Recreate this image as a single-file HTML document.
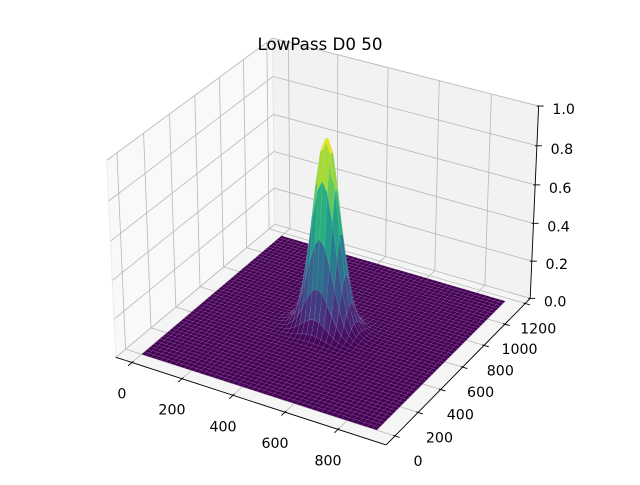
<!DOCTYPE html>
<html><head><meta charset="utf-8"><style>
html,body{margin:0;padding:0;background:#fff}
svg text{font-family:"DejaVu Sans","Liberation Sans",sans-serif;fill:#000}
</style></head><body>
<svg id="chart" width="640" height="480" viewBox="0 0 640 480" xmlns="http://www.w3.org/2000/svg">
<g id="panes"></g>
<g id="grid"></g>
<g id="surf"></g>
<g id="axes"></g>
<text x="320" y="50" font-size="16.7" text-anchor="middle">LowPass D0 50</text>
</svg>
<script>
// data
const xTicks = [0, 200, 400, 600, 800];
const yTicks = [0, 200, 400, 600, 800, 1000, 1200];
const zTicks = [0.0, 0.2, 0.4, 0.6, 0.8, 1.0];
const imageSize = [912, 1175];   // rows, cols of the filter
const cutoffD0 = [50];           // Gaussian low-pass cutoff
const sampleStride = [19, 24];   // plot_surface row/col stride
const xLim = [-65, 978];
const yLim = [-75, 1250];
const zLim = [0, 1];

const NS = "http://www.w3.org/2000/svg";
function proj(x, y, z) {
  const a = (x - xLim[0]) / (xLim[1] - xLim[0]);
  const b = (y - yLim[0]) / (yLim[1] - yLim[0]);
  const c = (z - zLim[0]) / (zLim[1] - zLim[0]);
  const qx = (a - .5) * 1.1429, qy = (b - .5) * 1.1429, qz = (c - .5) * 0.8297;
  const cx = .866 * qx + .5 * qy;
  const cy = -.25 * qx + .433 * qy + .866 * qz;
  const cz = .433 * qx - .75 * qy + .5 * qz;
  const d = 10 - cz;
  return [326.7 + 2708 * cx / d, 232 - 2708 * cy / d, d];
}
function mk(tag, attrs, parent) {
  const e = document.createElementNS(NS, tag);
  for (const k in attrs) e.setAttribute(k, attrs[k]);
  parent.appendChild(e);
  return e;
}
function pts(arr) { return arr.map(p => p[0].toFixed(2) + "," + p[1].toFixed(2)).join(" "); }

const panes = document.getElementById("panes");
const grid = document.getElementById("grid");
const surf = document.getElementById("surf");
const axes = document.getElementById("axes");
const [x0, x1] = xLim, [y0, y1] = yLim, [z0, z1] = zLim;

let p = mk("polygon", {points: pts([proj(x0,y0,z0),proj(x0,y1,z0),proj(x0,y1,z1),proj(x0,y0,z1)]), fill:"#f9f9f9", stroke:"#ececec","stroke-width":1}, panes);


p = mk("polygon", {points: pts([proj(x0,y1,z0),proj(x1,y1,z0),proj(x1,y1,z1),proj(x0,y1,z1)]), fill:"#f2f2f2", stroke:"#e6e6e6","stroke-width":1}, panes);


p = mk("polygon", {points: pts([proj(x0,y0,z0),proj(x1,y0,z0),proj(x1,y1,z0),proj(x0,y1,z0)]), fill:"#f5f5f5", stroke:"#e9e9e9","stroke-width":1}, panes);



function gline(a, b) {
  const l = mk("line", {x1:a[0],y1:a[1],x2:b[0],y2:b[1],stroke:"#b8b8b8","stroke-width":0.8}, grid);
  
  
}
xTicks.forEach(x => { gline(proj(x,y0,z0), proj(x,y1,z0)); gline(proj(x,y1,z0), proj(x,y1,z1)); });
yTicks.forEach(y => { gline(proj(x0,y,z0), proj(x1,y,z0)); gline(proj(x0,y,z0), proj(x0,y,z1)); });
zTicks.forEach(z => { gline(proj(x0,y0,z), proj(x0,y1,z)); gline(proj(x0,y1,z), proj(x1,y1,z)); });

const vir = ["#440154","#482475","#414487","#355f8d","#2a788e","#21918c","#22a884","#44bf70","#7ad151","#bddf26","#fde725"];
function hex(h){return [parseInt(h.substr(1,2),16),parseInt(h.substr(3,2),16),parseInt(h.substr(5,2),16)];}
function viridis(t){
  t = Math.max(0, Math.min(1, t)); const f = t * 10, i = Math.min(9, Math.floor(f)), r = f - i;
  const a = hex(vir[i]), b = hex(vir[i+1]);
  return "rgb(" + a.map((v,k)=>Math.round(v + (b[k]-v)*r)).join(",") + ")";
}
const rows = [], cols = [];
for (let i = 0; i < imageSize[0]; i += sampleStride[0]) rows.push(i);
if (rows[rows.length-1] !== imageSize[0]-1) rows.push(imageSize[0]-1);
for (let j = 0; j < imageSize[1]; j += sampleStride[1]) cols.push(j);
if (cols[cols.length-1] !== imageSize[1]-1) cols.push(imageSize[1]-1);
const cxm = imageSize[0]/2, cym = imageSize[1]/2, D0 = cutoffD0[0];
function H(u, v) { const d2 = (u-cxm)*(u-cxm) + (v-cym)*(v-cym); return Math.exp(-d2 / (2*D0*D0)); }
const Z = rows.map(u => cols.map(v => H(u, v)));
let zmax = 0; Z.forEach(r => r.forEach(v => { if (v > zmax) zmax = v; }));
const quads = [];
for (let i = 0; i < rows.length-1; i++) for (let j = 0; j < cols.length-1; j++) {
  const c = [[i,j],[i+1,j],[i+1,j+1],[i,j+1]].map(([a,b]) => proj(rows[a], cols[b], Z[a][b]));
  const zm = (Z[i][j]+Z[i+1][j]+Z[i+1][j+1]+Z[i][j+1]) / 4;
  const dep = (c[0][2]+c[1][2]+c[2][2]+c[3][2]) / 4;
  quads.push({c, zm, dep});
}
quads.sort((a,b) => b.dep - a.dep);
quads.forEach(q => {
  const col = viridis(q.zm / zmax);
  const e = mk("polygon", {points: pts(q.c), fill: col, stroke: "rgba(255,255,255,0.13)", "stroke-width": 0.5}, surf);
  
  
});

function aline(a, b, name) {
  const l = mk("line", {x1:a[0],y1:a[1],x2:b[0],y2:b[1],stroke:"#000","stroke-width":0.9}, axes);
  
  
}
aline(proj(x0,y0,z0), proj(x1,y0,z0), 'x-axis-line');
aline(proj(x1,y0,z0), proj(x1,y1,z0), 'y-axis-line');
aline(proj(x1,y1,z0), proj(x1,y1,z1), 'z-axis-line');
function tick(pt, dir, name) {
  const l = mk("line", {x1:pt[0]-dir[0]*2,y1:pt[1]-dir[1]*2,x2:pt[0]+dir[0]*5,y2:pt[1]+dir[1]*5,stroke:"#000","stroke-width":0.9}, axes);
  
  
}
function label(x, y, s, name) {
  const t = mk("text", {x:x, y:y+5, "font-size":14.2, "text-anchor":"middle"}, axes);
  t.textContent = s;
  
  
}
function unit(a, b){ const dx=b[0]-a[0], dy=b[1]-a[1], n=Math.hypot(dx,dy); return [dx/n, dy/n]; }
xTicks.forEach(x => {
  const pt = proj(x,y0,z0), dir = unit(pt, proj(x,y0-100,z0));
  tick(pt, dir, 'x-tick');
  label(pt[0]-10, pt[1]+31, String(x), 'x-tick-label');
});
yTicks.forEach((y,k) => {
  const pt = proj(x1,y,z0), dir = unit(pt, proj(x1+100,y,z0));
  tick(pt, dir, 'y-tick');
  const f = k / (yTicks.length-1);
  label(pt[0] + 23 - 10*f, pt[1] + 25, String(y), 'y-tick-label');
});
zTicks.forEach(z => {
  const pt = proj(x1,y1,z);
  tick(pt, [1,0], 'z-tick');
  label(pt[0]+25, pt[1]+3, z.toFixed(1), 'z-tick-label');
});
</script>
</body></html>
